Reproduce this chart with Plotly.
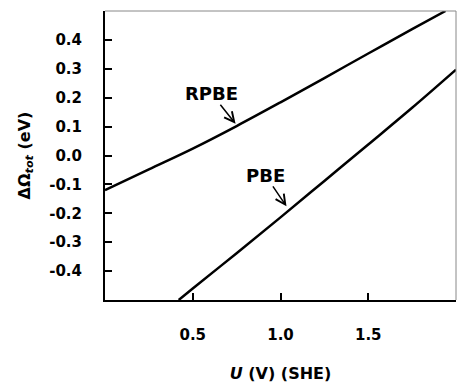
import plotly.graph_objects as go

# Data
rpbe_x = [0.0, 0.25, 0.5, 0.75, 1.0, 1.25, 1.5, 1.75, 1.94]
rpbe_y = [-0.12, -0.048, 0.024, 0.102, 0.184, 0.268, 0.353, 0.437, 0.50]
pbe_x = [0.42, 0.5, 0.75, 1.0, 1.25, 1.5, 1.75, 2.0]
pbe_y = [-0.50, -0.46, -0.338, -0.214, -0.088, 0.038, 0.165, 0.297]

x_ticks = [0.5, 1.0, 1.5]
x_ticklabels = ["0.5", "1.0", "1.5"]
y_ticks = [-0.4, -0.3, -0.2, -0.1, 0.0, 0.1, 0.2, 0.3, 0.4]
y_ticklabels = ["-0.4", "-0.3", "-0.2", "-0.1", "0.0", "0.1", "0.2", "0.3", "0.4"]

labels = ["RPBE", "PBE"]
arrow_head = [(0.744, 0.11), (1.034, -0.176)]
label_offset_px = [(-24, -30), (-21, -31)]

FONT = "DejaVu Sans"

fig = go.Figure()
fig.add_trace(go.Scatter(x=rpbe_x, y=rpbe_y, mode="lines", line_shape="spline",
                         line=dict(color="black", width=2.5), showlegend=False))
fig.add_trace(go.Scatter(x=pbe_x, y=pbe_y, mode="lines", line_shape="spline",
                         line=dict(color="black", width=2.5), showlegend=False))

annotations = []
for lab, (hx, hy), (ax, ay) in zip(labels, arrow_head, label_offset_px):
    annotations.append(dict(x=hx, y=hy, xref="x", yref="y", text=lab, showarrow=True,
                            ax=ax, ay=ay, arrowhead=5, arrowsize=1.3, arrowwidth=1.5,
                            arrowcolor="black", standoff=0, startstandoff=0, borderpad=0,
                            font=dict(family=FONT, size=18, color="black", weight="bold")))

fig.update_layout(
    width=457, height=383,
    margin=dict(l=105, r=1, t=11, b=83),
    paper_bgcolor="white", plot_bgcolor="white",
    annotations=annotations,
    shapes=[
        dict(type="line", xref="paper", yref="paper", x0=0, x1=1, y0=1, y1=1,
             line=dict(color="#888888", width=1)),
        dict(type="line", xref="paper", yref="paper", x0=1, x1=1, y0=0, y1=1,
             line=dict(color="#888888", width=1)),
    ],
)
fig.update_xaxes(range=[0, 2], tickvals=x_ticks, ticktext=x_ticklabels,
                 ticks="inside", ticklen=7, tickwidth=1.5, tickcolor="black",
                 showline=True, linecolor="black", linewidth=2, showgrid=False, zeroline=False,
                 ticklabelstandoff=20,
                 tickfont=dict(family=FONT, size=15, color="black", weight="bold"),
                 title=dict(text="<i>U</i> (V) (SHE)", standoff=25,
                            font=dict(family=FONT, size=16, color="black", weight="bold")))
fig.update_yaxes(range=[-0.5, 0.5], tickvals=y_ticks, ticktext=y_ticklabels,
                 ticks="inside", ticklen=7, tickwidth=1.5, tickcolor="black",
                 showline=True, linecolor="black", linewidth=2, showgrid=False, zeroline=False,
                 ticklabelstandoff=18,
                 tickfont=dict(family=FONT, size=15, color="black", weight="bold"),
                 title=dict(text="ΔΩ<sub><i>tot</i></sub> (eV)", standoff=15,
                            font=dict(family=FONT, size=16, color="black", weight="bold")))

fig.write_html("out.html")
